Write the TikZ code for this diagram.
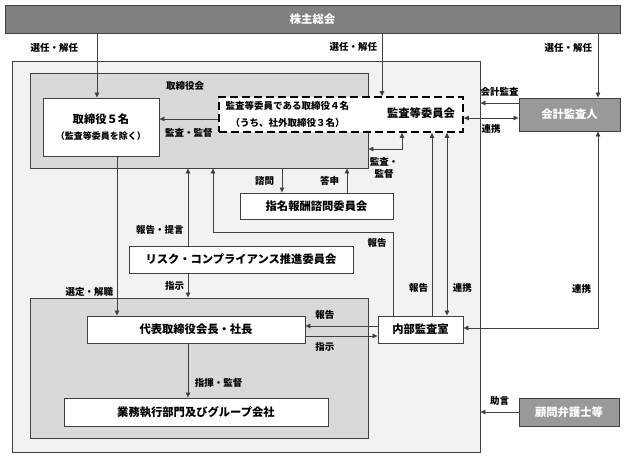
\documentclass[tikz,border=0pt]{standalone}
\usepackage{fontspec}
\setmainfont{Noto Sans CJK JP}
\usepackage{tikz}
\usetikzlibrary{arrows.meta}
\usepackage{xcolor}
\definecolor{soukaicolor}{RGB}{128,128,128}
\definecolor{outsidecolor}{RGB}{153,153,153}
\definecolor{companycolor}{RGB}{242,242,242}
\definecolor{groupcolor}{RGB}{217,217,217}
\definecolor{linecolor}{RGB}{64,64,64}

\begin{document}
\begin{tikzpicture}[x=1pt, y=-1pt,
    unit/.style={draw=linecolor, line width=0.9pt, fill=white, inner sep=0pt, minimum height=27pt, font=\fontsize{11.3}{13}\selectfont\bfseries},
    outside/.style={unit, fill=outsidecolor, text=white},
    group/.style={draw=linecolor, line width=0.9pt, inner sep=0pt},
    edge/.style={-{Triangle[length=5pt,width=4.5pt]}, draw=linecolor, line width=0.7pt},
    bothedge/.style={edge, {Triangle[length=5pt,width=4.5pt]}-{Triangle[length=5pt,width=4.5pt]}},
    note/.style={font=\fontsize{9.5}{11}\selectfont\bfseries, inner sep=1.5pt}
]
    \useasboundingbox (0,0) rectangle (625,456);

    \node[outside, fill=soukaicolor, minimum width=615pt, minimum height=28pt] (soukai) at (312.5,19) {株主総会};
    \node[group, fill=companycolor, minimum width=468pt, minimum height=391pt] (kaisha) at (246,256.5) {};
    \node[group, fill=groupcolor, minimum width=338pt, minimum height=95pt] (board) at (199,120.5) {};
    \node[note] (board-t) at (185,86) {取締役会};
    \node[group, fill=groupcolor, minimum width=338pt, minimum height=140pt] (exec) at (199,368) {};

    \node[unit, minimum width=116pt, minimum height=58pt, align=center] (tori5) at (101,127) {取締役５名\\[3pt]{\fontsize{9}{11}\selectfont （監査等委員を除く）}};
    \node[unit, draw=black, line width=1.6pt, dash pattern=on 8pt off 4pt, minimum width=244pt, minimum height=35pt] (kansa) at (341,114.5) {};
    \node[note, anchor=west] (kansa-t1) at (224,106) {監査等委員である取締役４名};
    \node[note, anchor=west] (kansa-t2) at (229,123) {（うち、社外取締役３名）};
    \node[font=\fontsize{11.3}{13}\selectfont\bfseries] (kansa-t3) at (421,113) {監査等委員会};
    \node[unit, minimum width=153pt, minimum height=26pt] (shimei) at (316.5,206) {指名報酬諮問委員会};
    \node[unit, minimum width=224pt] (risk) at (241,259.5) {リスク・コンプライアンス推進委員会};
    \node[unit, minimum width=218pt] (daihyo) at (196,329.5) {代表取締役会長・社長};
    \node[unit, minimum width=264pt, minimum height=28pt] (gyomu) at (196,412) {業務執行部門及びグループ会社};
    \node[unit, minimum width=85pt] (naibu) at (420.5,329.5) {内部監査室};
    \node[outside, minimum width=101pt, minimum height=33pt] (kaikei) at (569.5,114.5) {会計監査人};
    \node[outside, minimum width=100pt, minimum height=28pt] (komon) at (569,412) {顧問弁護士等};

    \draw[edge] (soukai.south -| 97,0) -- node[note, pos=0.22, left=17pt] {選任・解任} (tori5.north -| 97,0);
    \draw[edge] (soukai.south -| 382,0) -- node[note, pos=0.22, left=3pt] {選任・解任} (kansa.north -| 382,0);
    \draw[edge] (soukai.south -| 598,0) -- node[note, pos=0.22, left=4pt] {選任・解任} (kaikei.north -| 598,0);

    \draw[edge] (kansa.west |- 0,119) -- node[note, midway, below=7.5pt] {監査・監督} (tori5.east |- 0,119);
    \draw[edge] (kaikei.west |- 0,103) -- node[note, midway, above=4.5pt] {会計監査} (kaisha.east |- 0,103);
    \draw[bothedge] (kansa.east |- 0,118) -- node[note, midway, below=4.5pt] {連携} (kaikei.west |- 0,118);
    \draw[bothedge] (kansa.south -| 402,0) |- (board.east |- 0,149);
    \node[note, align=center] (kansa-l) at (384,168) {監査・\\[1pt]監督};

    \draw[edge] (board.south -| 282,0) -- node[note, midway, left=6pt] {諮問} (shimei.north -| 282,0);
    \draw[edge] (shimei.north -| 347,0) -- node[note, midway, left=6pt] {答申} (board.south -| 347,0);
    \draw[edge] (naibu.north -| 393,0) -- (393,232) -| (board.south -| 213,0);
    \node[note] (naibu-l1) at (377,243) {報告};
    \draw[edge] (naibu.north -| 432,0) -- node[note, pos=0.15, left=2pt] {報告} (kansa.south -| 432,0);
    \draw[bothedge] (naibu.north -| 447,0) -- node[note, pos=0.15, right=4pt] {連携} (kansa.south -| 447,0);
    \draw[bothedge] (kaikei.south -| 598,0) |- node[note, pos=0.4, left=5pt] {連携} (naibu.east |- 0,328);

    \draw[edge] (risk.north -| 188,0) -- node[note, pos=0.2, left=2.5pt] {報告・提言} (board.south -| 188,0);
    \draw[edge] (risk.south -| 188,0) -- node[note, midway, left=2pt] {指示} (exec.north -| 188,0);
    \draw[edge] (tori5.south -| 117,0) -- node[note, pos=0.85, left=2pt] {選定・解職} (daihyo.north -| 117,0);
    \draw[edge] (daihyo.south -| 188,0) -- node[note, pos=0.73, right=5pt] {指揮・監督} (gyomu.north -| 188,0);
    \draw[edge] (naibu.west |- 0,326) -- node[note, pos=0.73, above=5pt] {報告} (daihyo.east |- 0,326);
    \draw[edge] (daihyo.east |- 0,336) -- node[note, pos=0.27, below=4.5pt] {指示} (naibu.west |- 0,336);
    \draw[edge] (komon.west) -- node[note, midway, above=4.5pt] {助言} (komon.west -| kaisha.east);
\end{tikzpicture}
\end{document}
